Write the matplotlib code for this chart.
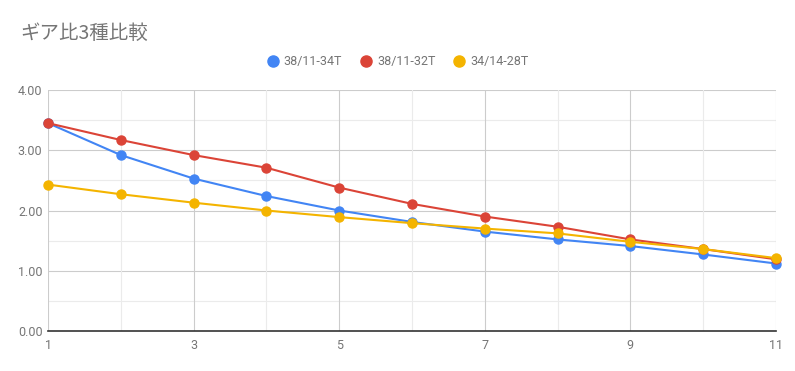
import matplotlib
matplotlib.use("Agg")
import matplotlib.pyplot as plt
from matplotlib.lines import Line2D

plt.rcParams['font.family'] = ['Roboto', 'Noto Sans CJK JP', 'DejaVu Sans']

# data: gear ratio per sprocket position
positions = [1, 2, 3, 4, 5, 6, 7, 8, 9, 10, 11]
ratio_38_11_34 = [3.45, 2.92, 2.53, 2.24, 2.00, 1.81, 1.65, 1.52, 1.41, 1.27, 1.12]
ratio_38_11_32 = [3.45, 3.17, 2.92, 2.71, 2.38, 2.11, 1.90, 1.73, 1.52, 1.36, 1.19]
ratio_34_14_28 = [2.43, 2.27, 2.13, 2.00, 1.89, 1.79, 1.70, 1.62, 1.48, 1.36, 1.21]
series_names = ["38/11-34T", "38/11-32T", "34/14-28T"]
colors = ["#4285F4", "#DB4437", "#F4B400"]
x_ticks = [1, 3, 5, 7, 9, 11]
y_ticks = [0, 1, 2, 3, 4]

fig = plt.figure(figsize=(7.95, 3.71), dpi=100)
ax = fig.add_axes([48 / 795, 1 - 331 / 371, 728 / 795, 241 / 371])

# grid
for v in [0.5, 1.5, 2.5, 3.5]:
    ax.axhline(v, color="#ebebeb", lw=0.8, zorder=0)
for v in [1, 2, 3, 4]:
    ax.axhline(v, color="#cccccc", lw=0.8, zorder=0)
for v in [2, 4, 6, 8, 10]:
    ax.axvline(v, color="#ebebeb", lw=0.8, zorder=0)
for v in [1, 3, 5, 7, 9, 11]:
    ax.axvline(v, color="#cccccc", lw=0.8, zorder=0)

for vals, c in zip([ratio_38_11_34, ratio_38_11_32, ratio_34_14_28], colors):
    ax.plot(positions, vals, color=c, lw=1.5, marker="o", markersize=6.5,
            clip_on=False, zorder=3)

ax.set_xlim(1, 11)
ax.set_ylim(0, 4)
ax.set_xticks(x_ticks)
ax.set_yticks(y_ticks)
ax.set_yticklabels(["%.2f" % v for v in y_ticks])
for s in ["top", "right", "left"]:
    ax.spines[s].set_visible(False)
ax.spines["bottom"].set_color("#333333")
ax.spines["bottom"].set_linewidth(1.2)
ax.spines["bottom"].set_zorder(2)
ax.tick_params(length=0, colors="#757575", labelsize=9)
ax.tick_params(axis="x", pad=6)
ax.tick_params(axis="y", pad=4)

fig.text(20 / 795, 1 - 33 / 371, "ギア比3種比較", fontsize=14, color="#757575",
         family=['Noto Sans CJK JP', 'DejaVu Sans'], va="center", ha="left")

handles = [Line2D([], [], ls="none", marker="o", markersize=8, color=c) for c in colors]
fig.legend(handles, series_names, loc="center", bbox_to_anchor=(397 / 795, 1 - 62 / 371),
           ncol=3, frameon=False, fontsize=9, labelcolor="#757575",
           handletextpad=0.3, columnspacing=1.3, handlelength=1.2)

fig.savefig("out.png", dpi=100)
